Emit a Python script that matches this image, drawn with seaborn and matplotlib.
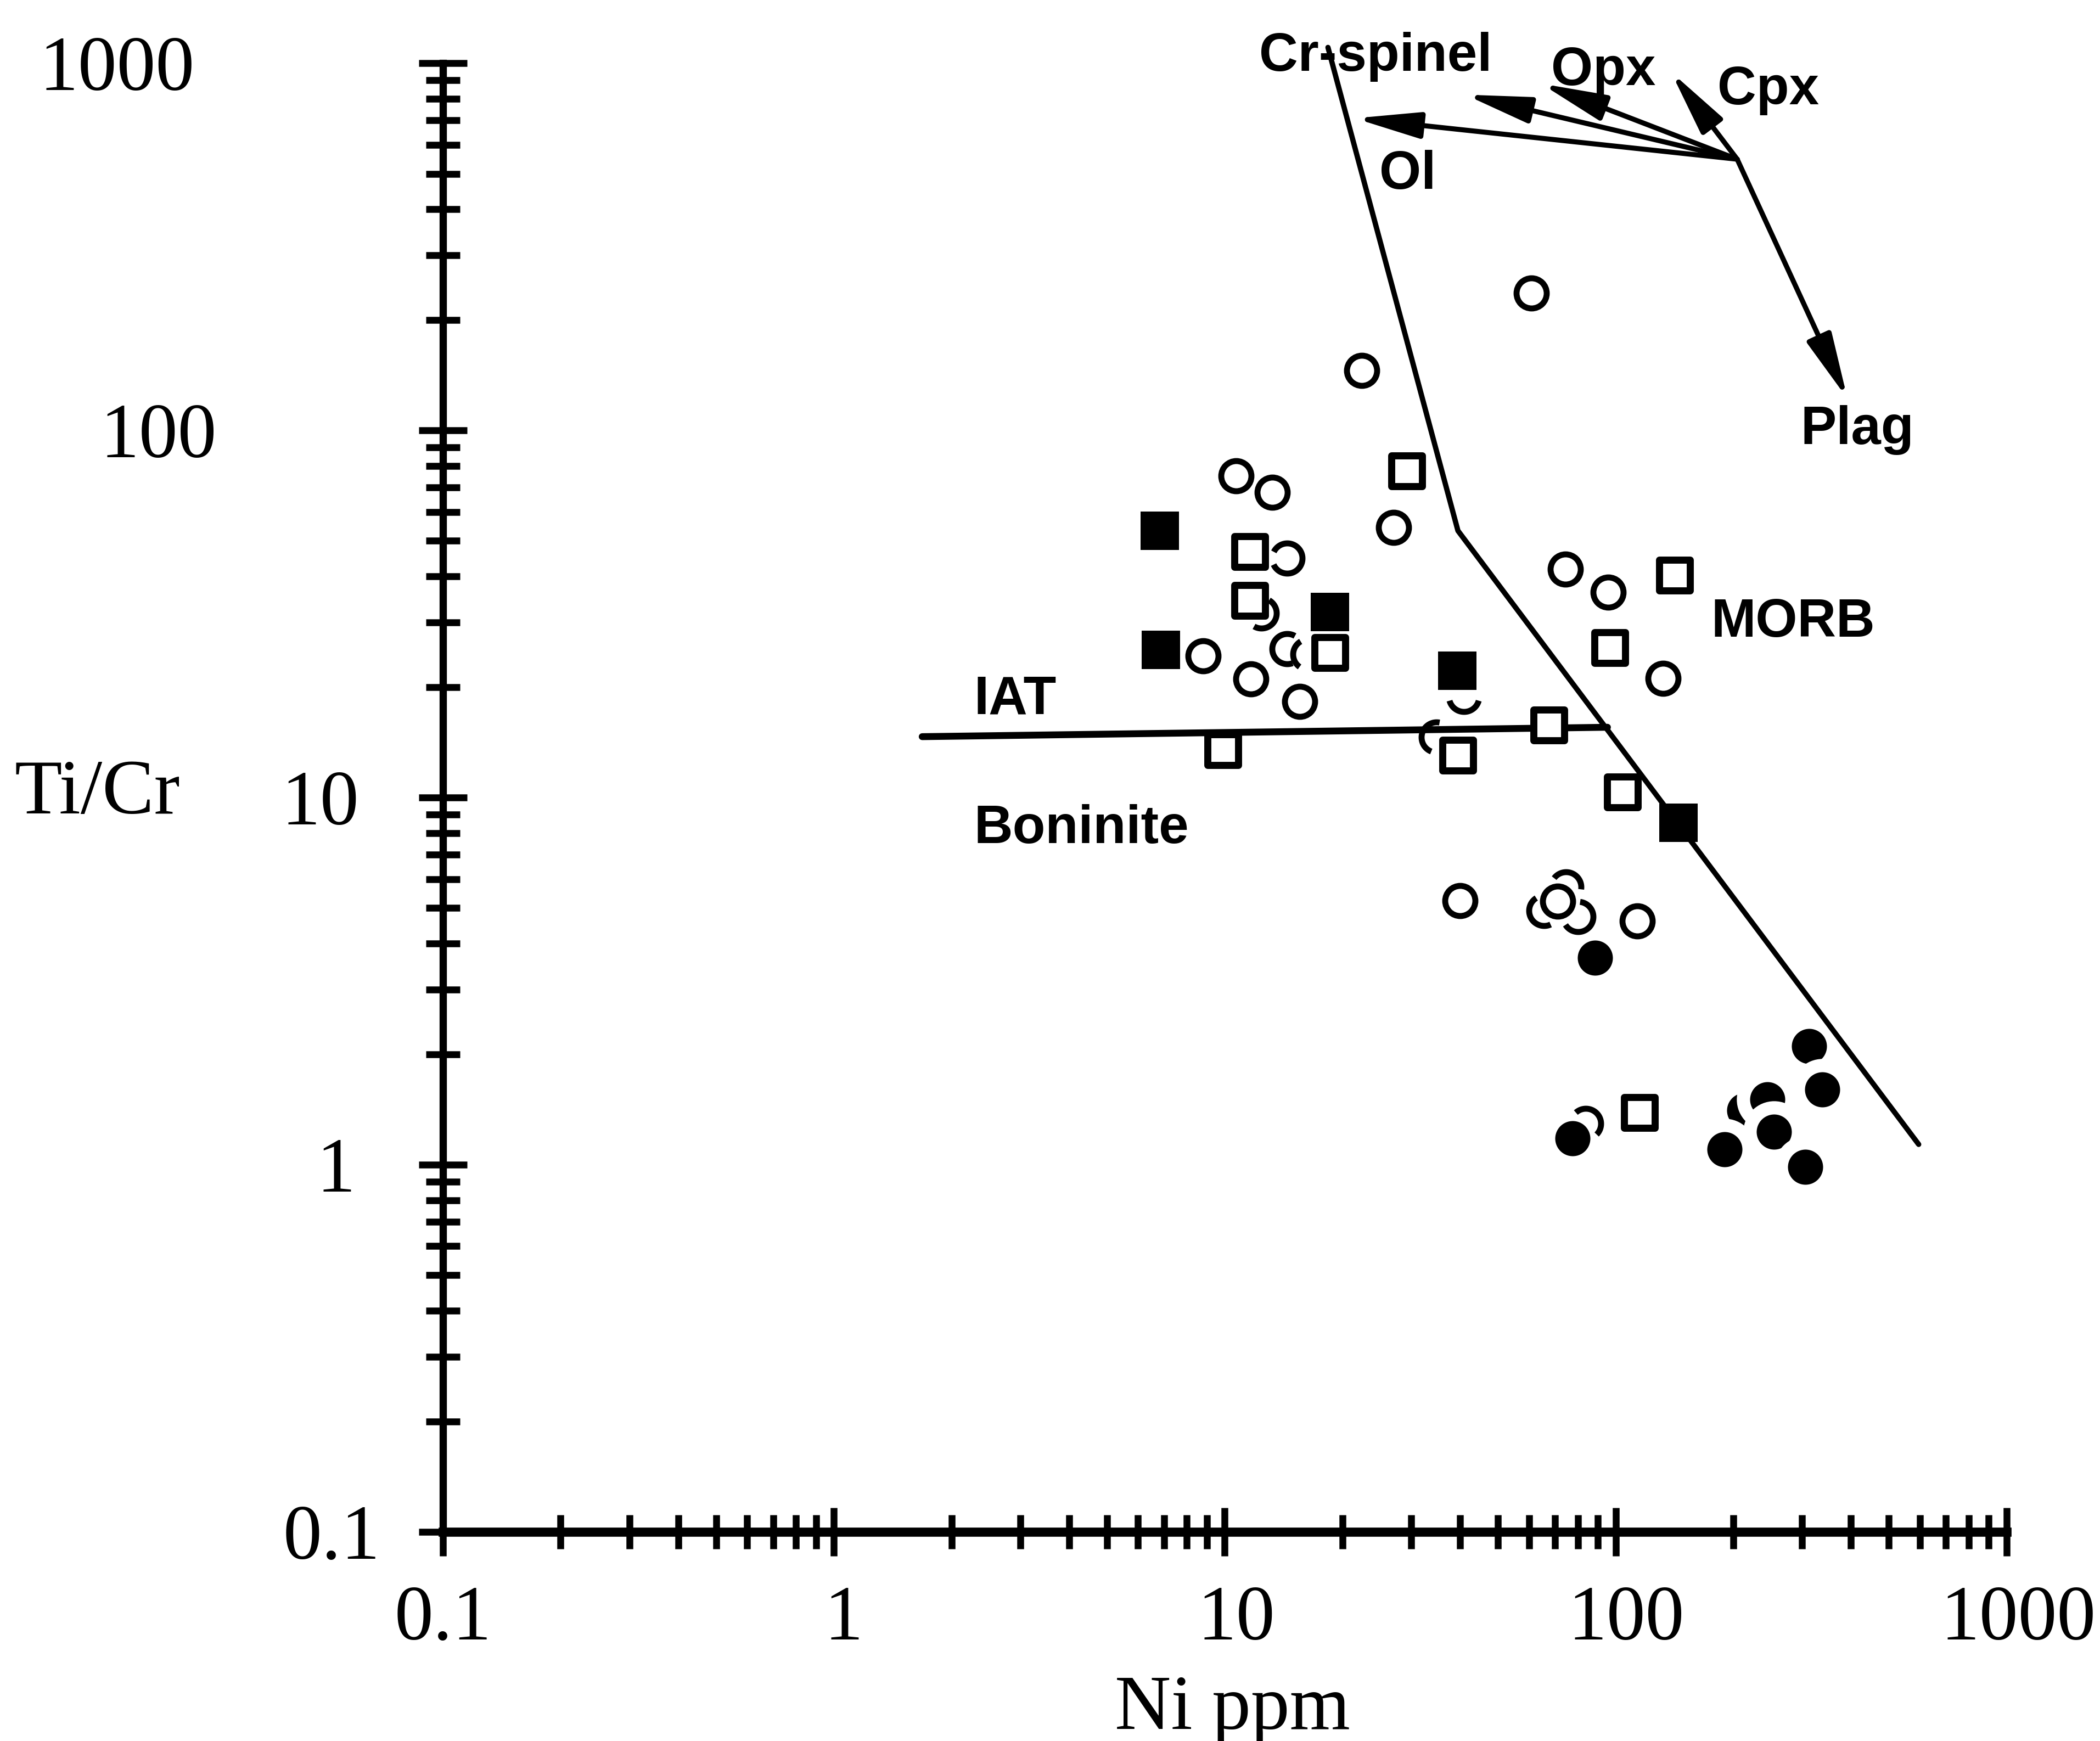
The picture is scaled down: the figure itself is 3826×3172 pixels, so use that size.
import numpy as np
import matplotlib
matplotlib.use("Agg")
import matplotlib.pyplot as plt
import seaborn as sns
from matplotlib.path import Path
from matplotlib.ticker import LogLocator, NullFormatter
from matplotlib.transforms import ScaledTranslation

# ---------------------------------------------------------------------------
# Ni (ppm) versus Ti/Cr for the analysed lavas
# ---------------------------------------------------------------------------
open_circle_ni = [60.8, 22.45, 10.70, 13.25, 27.05, 8.81, 11.68, 15.57,
                  74.45, 95.85, 132.3, 40.02, 71.0, 113.5]
open_circle_ticr = [236.5, 145.8, 75.1, 67.7, 54.4, 24.3, 21.06, 18.28,
                    41.85, 36.2, 21.13, 5.245, 5.22, 4.615]

open_square_ni = [29.2, 11.6, 11.6, 18.6, 9.89, 39.5, 141.5, 96.5, 67.5, 104.1, 115.1]
open_square_ticr = [77.5, 46.7, 34.4, 24.8, 13.49, 13.04, 40.3, 25.6, 15.73, 10.34, 1.388]

filled_square_ni = [6.815, 6.87, 18.6, 39.4, 144.6]
filled_square_ticr = [53.2, 25.25, 32.05, 22.15, 8.53]

# filled circles, listed from back to front (later ones knock out earlier ones)
filled_circle_ni = [88.5, 77.7, 312.1, 337.3, 213.1, 244.5, 253.9, 189.9, 305.5]
filled_circle_ticr = [3.665, 1.181, 2.102, 1.601, 1.404, 1.505, 1.230, 1.102, 0.988]

# open circles partly hidden behind neighbouring symbols: visible arc in degrees
hidden_circle_ni = [14.44, 12.41, 14.44, 16.33, 40.85, 34.85, 74.7, 65.6, 80.25, 83.8]
hidden_circle_ticr = [44.9, 31.8, 25.4, 24.55, 18.85, 14.63, 5.705, 4.93, 4.745, 1.295]
hidden_arc_start = [-156, -120, 60, 120, 195, 79, -8, 122, -148, -45]
hidden_arc_end = [154, 60, 290, 235, 345, 249, 143, 295, 83, 132]

# discriminant boundaries
morb_boundary_ni = [18.37, 39.5, 596.0]
morb_boundary_ticr = [1104.0, 53.3, 1.136]
iat_boundary_ni = [1.683, 95.3]
iat_boundary_ticr = [14.65, 15.54]

# crystal fractionation vectors
vector_origin_ni = 204.6
vector_origin_ticr = 547.7
vector_end_ni = [21.5, 41.2, 64.4, 138.5, 391.8]
vector_end_ticr = [708.0, 821.0, 880.0, 947.0, 122.0]

major_ticks = [0.1, 1, 10, 100, 1000]
tick_labels = ["0.1", "1", "10", "100", "1000"]

# ---------------------------------------------------------------------------
sns.set_theme(style="ticks")
plt.rcParams["font.family"] = ["Liberation Sans", "DejaVu Sans"]
serif = ["Liberation Serif", "DejaVu Serif"]

W, H, DPI = 3826, 3172, 300
fig = plt.figure(figsize=(W / DPI, H / DPI), dpi=DPI, facecolor="white")
ax = fig.add_axes([0.2109, 0.1201, 0.7446, 0.8436])
ax.set_facecolor("white")
ax.set_xscale("log")
ax.set_yscale("log")
ax.set_xlim(0.1, 1000)
ax.set_ylim(0.1, 1000)

# boundary lines (above the knocked-out filled circles, below the open symbols)
sns.lineplot(x=morb_boundary_ni, y=morb_boundary_ticr, sort=False, estimator=None,
             color="black", lw=2.3, ax=ax, clip_on=False, zorder=3.5)
sns.lineplot(x=iat_boundary_ni, y=iat_boundary_ticr, sort=False, estimator=None,
             color="black", lw=3.0, ax=ax, zorder=3.5)

# fractionation vectors
for tx, ty in zip(vector_end_ni, vector_end_ticr):
    ax.annotate("", xy=(tx, ty), xytext=(vector_origin_ni, vector_origin_ticr),
                arrowprops=dict(arrowstyle="-|>,head_length=0.8,head_width=0.16",
                                mutation_scale=30, lw=2.2, color="black",
                                shrinkA=0, shrinkB=0),
                annotation_clip=False, zorder=3.5)

# symbols
sns.scatterplot(x=filled_circle_ni, y=filled_circle_ticr, marker="o", s=448,
                color="black", edgecolor="white", linewidth=5.8, ax=ax, zorder=3)
sns.scatterplot(x=open_circle_ni, y=open_circle_ticr, marker="o", s=174,
                color="white", edgecolor="black", linewidth=2.6, ax=ax, zorder=4)
sns.scatterplot(x=open_square_ni, y=open_square_ticr, marker="s", s=180,
                color="white", edgecolor="black", linewidth=3.1, ax=ax, zorder=4)
sns.scatterplot(x=filled_square_ni, y=filled_square_ticr, marker="s", s=282,
                color="black", linewidth=0, ax=ax, zorder=4)


def arc_marker(t0, t1):
    """Open circle marker showing only the arc from t0 to t1 (degrees)."""
    th = np.radians(np.linspace(t0, t1, 80))
    verts = np.vstack([[1.0, 1.0], np.column_stack([np.cos(th), np.sin(th)])])
    codes = [Path.MOVETO, Path.MOVETO] + [Path.LINETO] * (len(th) - 1)
    return Path(verts, codes)


for x, y, t0, t1 in zip(hidden_circle_ni, hidden_circle_ticr,
                        hidden_arc_start, hidden_arc_end):
    ax.plot([x], [y], ls="none", marker=arc_marker(t0, t1), ms=13.2, mew=2.6,
            mec="black", mfc="none", zorder=5)

# field and mineral labels
lab_kw = dict(fontsize=23.5, fontweight="bold", color="black",
              ha="left", va="baseline", zorder=6)
ax.text(24.3, 952.8, "Cr-spinel", clip_on=False, **{**lab_kw, "ha": "center"})
ax.text(68.3, 871.0, "Opx", clip_on=False, **lab_kw)
ax.text(182.3, 774.0, "Cpx", clip_on=False, **lab_kw)
ax.text(24.86, 454.6, "Ol", **lab_kw)
ax.text(297.4, 91.8, "Plag", **lab_kw)
ax.text(175.5, 27.4, "MORB", **lab_kw)
ax.text(2.28, 16.93, "IAT", **lab_kw)
ax.text(2.28, 7.51, "Boninite", **lab_kw)

# axes, ticks and labels
for side in ("top", "right"):
    ax.spines[side].set_visible(False)
ax.spines["bottom"].set_linewidth(4.0)
ax.spines["left"].set_linewidth(3.2)
for side in ("bottom", "left"):
    ax.spines[side].set_color("black")

ax.set_xticks(major_ticks, labels=tick_labels)
ax.set_yticks(major_ticks, labels=tick_labels)
for axis in (ax.xaxis, ax.yaxis):
    axis.set_minor_locator(LogLocator(base=10, subs=np.arange(2, 10), numticks=20))
    axis.set_minor_formatter(NullFormatter())
ax.set_xlim(0.1, 1000)
ax.set_ylim(0.1, 1000)

ax.tick_params(which="major", direction="inout", length=21, width=3,
               color="black", labelcolor="black", labelsize=34)
ax.tick_params(which="minor", direction="inout", length=15, width=3, color="black")
ax.tick_params(axis="x", which="major", pad=13)
ax.tick_params(axis="y", which="major", pad=17)

ax.set_xlabel("Ni ppm", fontsize=34, family=serif, color="black")
ax.set_ylabel("Ti/Cr", fontsize=34, family=serif, color="black", rotation=0)
ax.xaxis.set_label_coords(0.505, -0.134)
ax.xaxis.label.set_verticalalignment("baseline")
ax.xaxis.label.set_horizontalalignment("center")
ax.yaxis.set_label_coords(-0.2211, 0.5019)
ax.yaxis.label.set_verticalalignment("center")
ax.yaxis.label.set_horizontalalignment("center")

for lab in ax.get_xticklabels() + ax.get_yticklabels():
    lab.set_fontfamily(serif)

# hand-set label offsets (inches)
x_label_shift = [0.0, 0.06, 0.07, 0.065, 0.07]
y_label_shift = [0.0, -0.15, -0.127, -0.99, -1.127]
for lab, dx in zip(ax.get_xticklabels(), x_label_shift):
    lab.set_transform(lab.get_transform() + ScaledTranslation(dx, 0, fig.dpi_scale_trans))
for lab, dx in zip(ax.get_yticklabels(), y_label_shift):
    lab.set_transform(lab.get_transform() + ScaledTranslation(dx, 0, fig.dpi_scale_trans))

fig.savefig("out.png", dpi=DPI, facecolor="white")
